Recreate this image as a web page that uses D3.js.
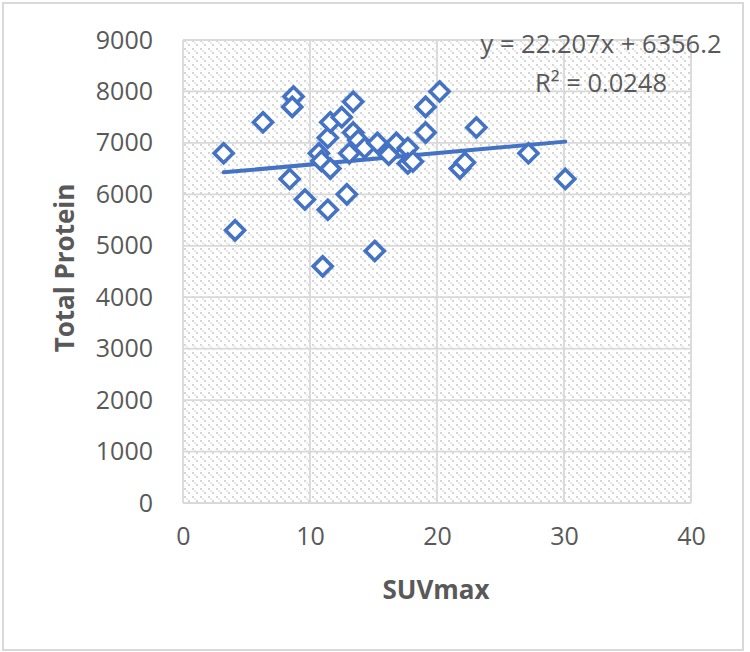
<!DOCTYPE html>
<html><head><meta charset="utf-8">
<script src="https://d3js.org/d3.v7.min.js"></script>
<style>body{margin:0;background:#fff}svg{display:block}text{font-family:"Open Sans",sans-serif;fill:#595959}</style>
</head><body><svg id="c" width="750" height="652"></svg>
<script>
const suv = [3.2,4.1,6.3,8.7,8.6,8.4,9.6,11.0,10.7,10.9,11.6,11.4,11.6,11.4,12.5,13.4,13.4,12.9,13.1,13.8,14.3,15.3,15.1,16.2,16.8,17.7,17.7,18.1,19.1,19.1,20.2,21.8,22.2,23.1,27.2,30.1];
const protein = [6800,5300,7400,7900,7700,6300,5900,4600,6800,6650,6500,7100,7400,5700,7500,7800,7200,6000,6800,7050,6900,7000,4900,6770,7000,6900,6600,6640,7700,7200,8000,6500,6620,7300,6800,6300];
const xTicks = [0,10,20,30,40];
const yTicks = [0,1000,2000,3000,4000,5000,6000,7000,8000,9000];
const trend = {slope:22.207, intercept:6356.2, r2:"0.0248"};
const eqLines = ["y = 22.207x + 6356.2", "R² = 0.0248"];

const svg = d3.select("#c");
const L=183, R=691, T=40, B=503;
const x = d3.scaleLinear().domain([0,40]).range([L,R]);
const y = d3.scaleLinear().domain([0,9000]).range([B,T]);
const blue="#4472C4", grid="#d9d9d9";

svg.append("rect").attr("x",3).attr("y",3).attr("width",740).attr("height",647)
  .attr("fill","#fff").attr("stroke","#d9d9d9").attr("stroke-width",2);

const defs=svg.append("defs");
const pat=defs.append("pattern").attr("id","hatch").attr("patternUnits","userSpaceOnUse")
  .attr("width",8).attr("height",8);
pat.append("rect").attr("width",8).attr("height",8).attr("fill","#fff");
[[0,0,"#d6d6d6"],[2,2,"#e9e9e9"],[4,4,"#d6d6d6"]].forEach(([a,b,c])=>
  pat.append("rect").attr("x",a).attr("y",b).attr("width",2).attr("height",2).attr("fill",c));

svg.append("rect").attr("x",L).attr("y",T).attr("width",R-L).attr("height",B-T).attr("fill","url(#hatch)");

// gridlines
svg.append("g").selectAll("line").data(yTicks).join("line")
  .attr("x1",L).attr("x2",R).attr("y1",d=>y(d)).attr("y2",d=>y(d))
  .attr("stroke",grid).attr("stroke-width",1.8);
svg.append("g").selectAll("line").data(xTicks).join("line")
  .attr("y1",T).attr("y2",B).attr("x1",d=>x(d)).attr("x2",d=>x(d))
  .attr("stroke",grid).attr("stroke-width",1.8);

// axes labels via d3 axes
const ya = svg.append("g").attr("transform",`translate(${L},0)`)
  .call(d3.axisLeft(y).tickValues(yTicks).tickSize(0).tickPadding(30).tickFormat(d3.format("d")));
ya.select(".domain").remove();
ya.selectAll("text").attr("font-size",25).attr("fill","#595959").style("font-family","Open Sans");
const xa = svg.append("g").attr("transform",`translate(0,${B})`)
  .call(d3.axisBottom(x).tickValues(xTicks).tickSize(0).tickPadding(24).tickFormat(d3.format("d")));
xa.select(".domain").remove();
xa.selectAll("text").attr("font-size",25).attr("fill","#595959").style("font-family","Open Sans");

// titles
svg.append("text").attr("x",436).attr("y",599).attr("text-anchor","middle")
  .attr("font-size",26).attr("font-weight","bold").text("SUVmax");
svg.append("text").attr("transform","translate(74,268) rotate(-90)").attr("text-anchor","middle")
  .attr("font-size",26).attr("font-weight","bold").text("Total Protein");

// trend line
const xmin=d3.min(suv), xmax=d3.max(suv);
svg.append("line").attr("x1",x(xmin)).attr("x2",x(xmax))
  .attr("y1",y(trend.slope*xmin+trend.intercept)).attr("y2",y(trend.slope*xmax+trend.intercept))
  .attr("stroke",blue).attr("stroke-width",4).attr("stroke-linecap","round");

// points
const pts = suv.map((v,i)=>[v,protein[i]]);
const s=9.5;
svg.append("g").selectAll("path").data(pts).join("path")
  .attr("d",d=>{const cx=x(d[0]),cy=y(d[1]);return `M${cx},${cy-s}L${cx+s},${cy}L${cx},${cy+s}L${cx-s},${cy}Z`;})
  .attr("fill","#fff").attr("stroke",blue).attr("stroke-width",3.6).attr("stroke-linejoin","miter");

// equation
svg.append("text").attr("x",601).attr("y",53).attr("text-anchor","middle").attr("font-size",25.5).text(eqLines[0]);
svg.append("text").attr("x",601).attr("y",92).attr("text-anchor","middle").attr("font-size",25.5).text(eqLines[1]);
</script></body></html>
